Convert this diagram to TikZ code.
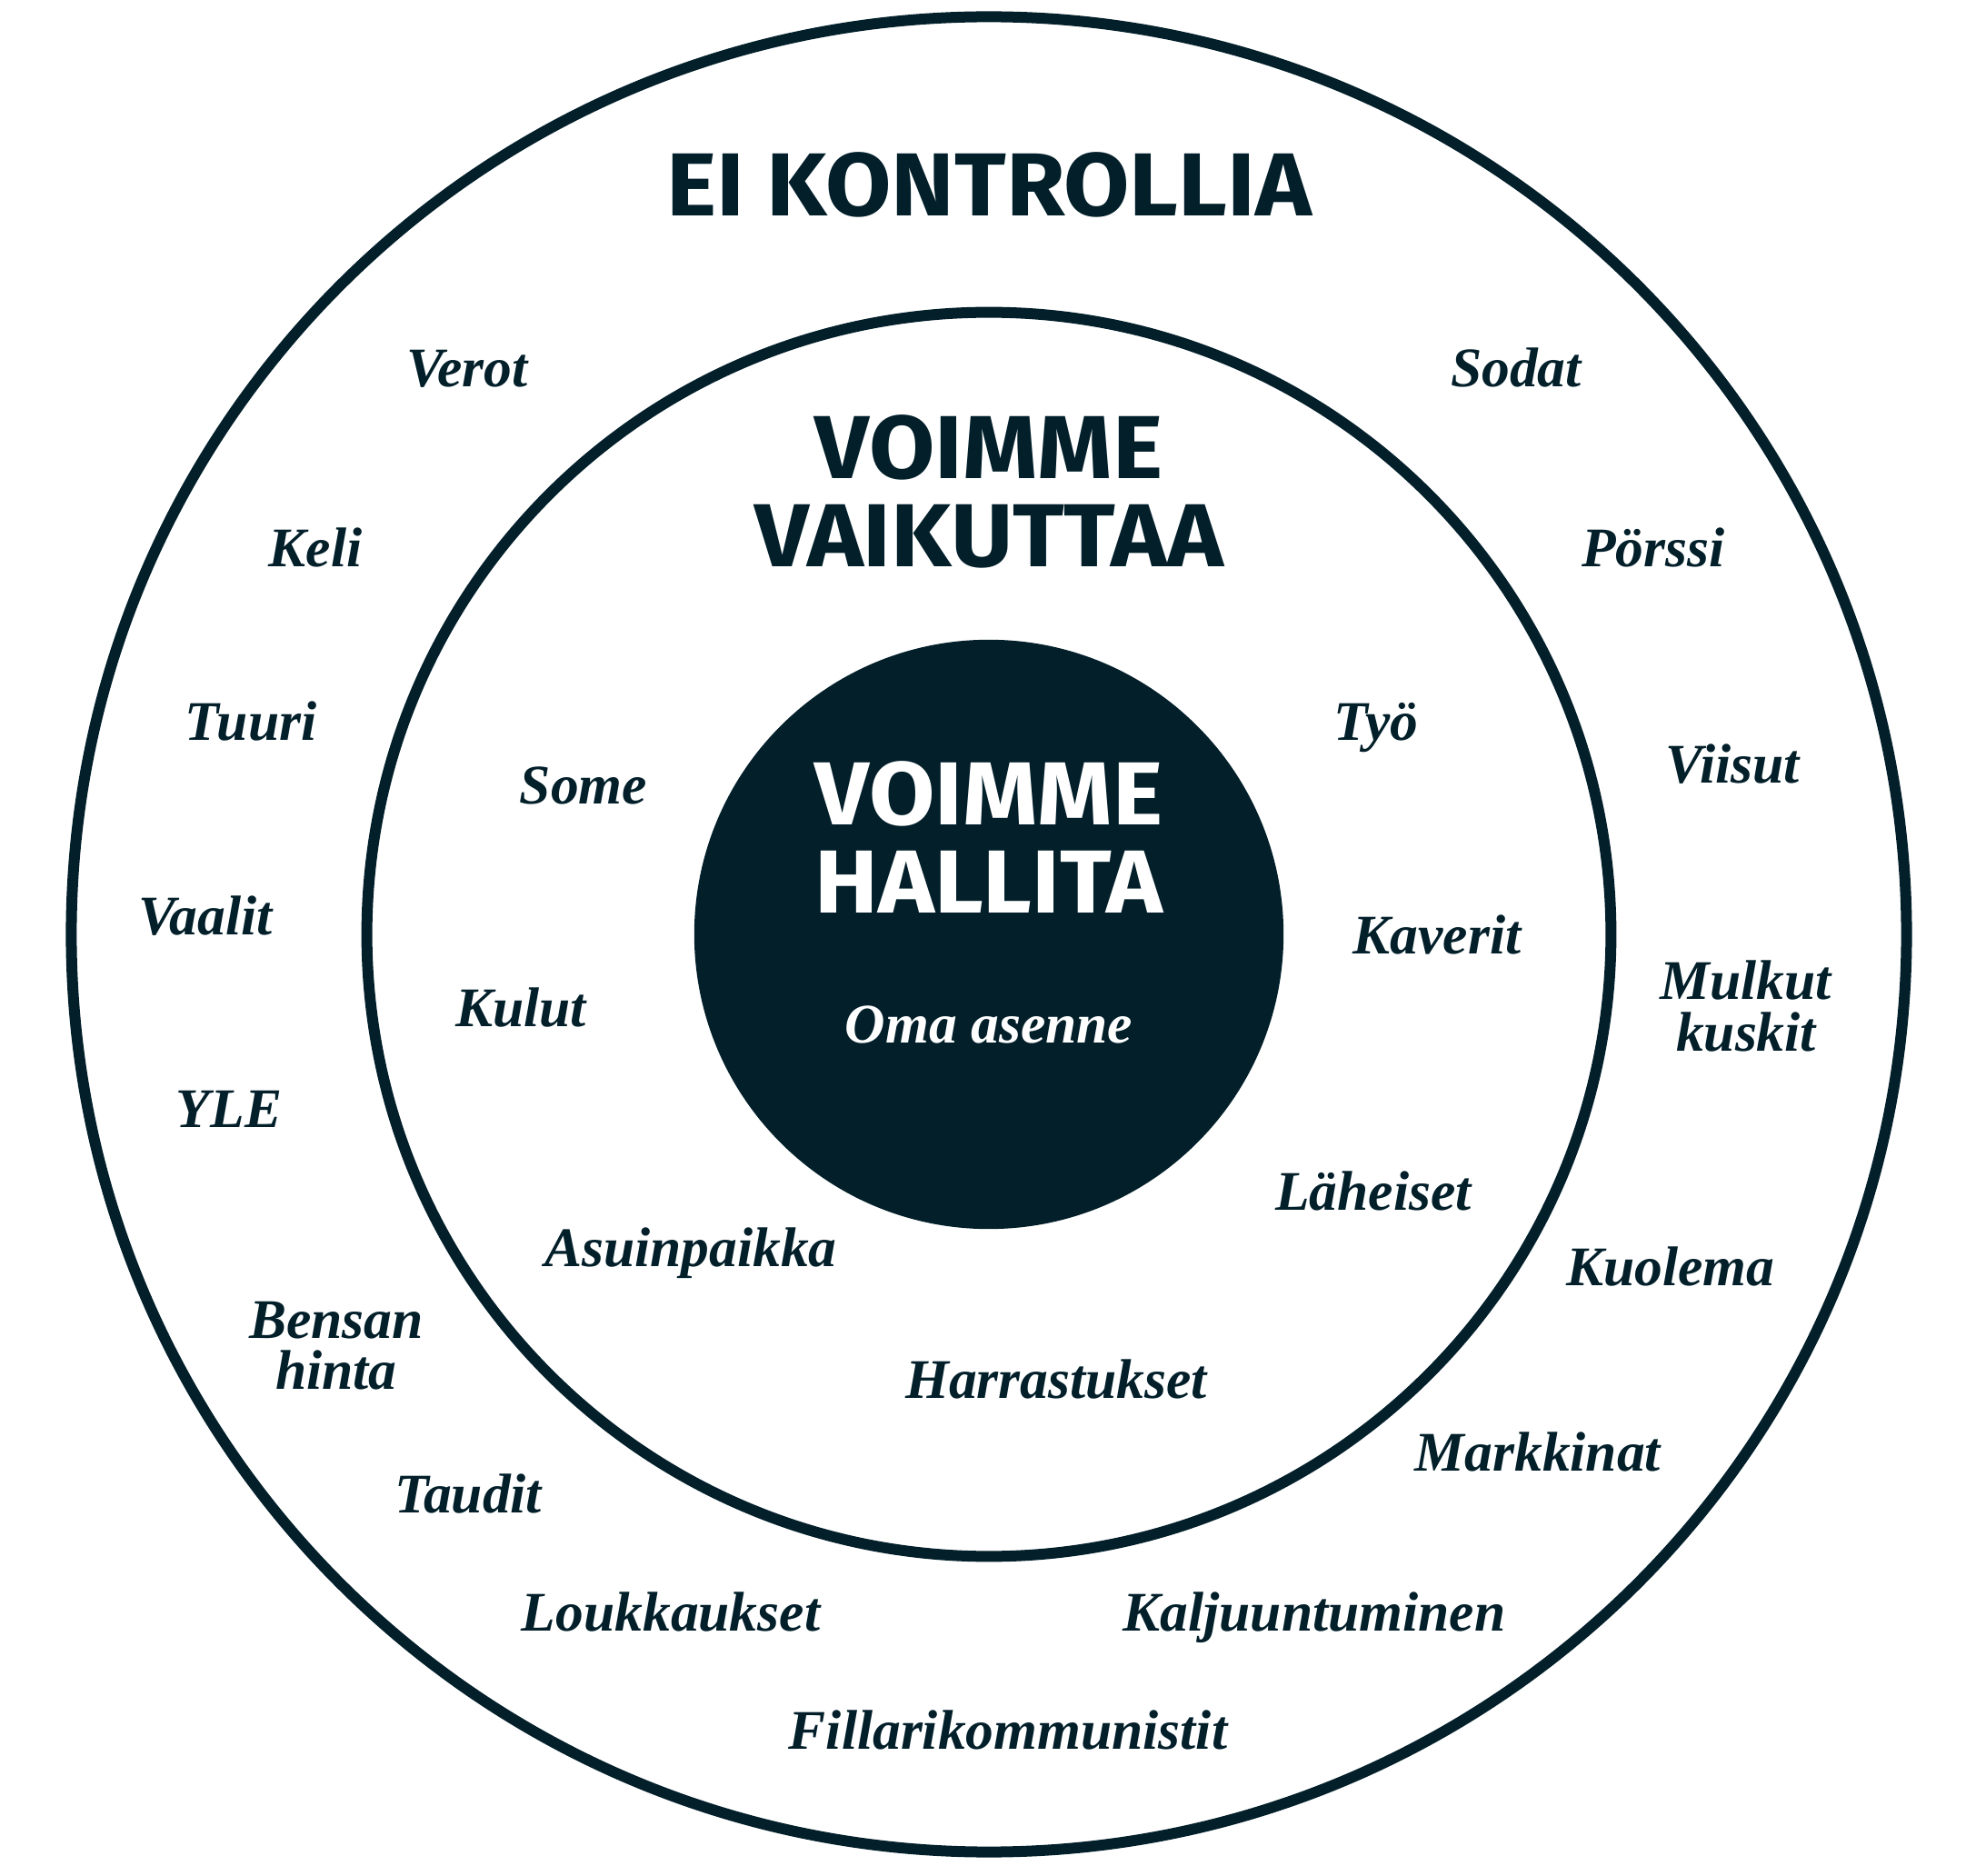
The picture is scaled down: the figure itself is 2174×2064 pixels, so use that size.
\documentclass[tikz,border=0pt]{standalone}
\usepackage{fontspec}
\usepackage{graphicx}
\setmainfont{Liberation Serif}
\newfontfamily\headfont{Fira Sans}
\definecolor{ink}{RGB}{2,31,42}
\newcommand{\hdwide}[1]{\scalebox{1.065}[1]{#1}}
\begin{document}
\begin{tikzpicture}[x=0.01cm,y=-0.01cm,
  item/.style={font=\fontsize{17.5}{16}\selectfont\bfseries\itshape, text=ink, align=center, inner sep=0, anchor=base},
  head/.style={font=\headfont\fontsize{28}{27.5}\selectfont\bfseries, text=ink, align=center, inner sep=0, anchor=base},
  ring/.style={draw=ink, line width=0.12cm}]
\useasboundingbox (0,0) rectangle (2174,2064);
\coordinate (c) at (1088,1028);
\draw[ring] (c) circle[radius=10.09cm];
\draw[ring] (c) circle[radius=6.84cm];
\fill[ink] (c) circle[radius=3.24cm];

\node[head] (eik) at (1088,238) {\hdwide{EI KONTROLLIA}};
\node[head] (vv1) at (1088,527) {\hdwide{VOIMME}};
\node[head] (vv2) at (1088,624) {\hdwide{VAIKUTTAA}};
\node[head,text=white] (vh1) at (1088,908) {\hdwide{VOIMME}};
\node[head,text=white] (vh2) at (1088,1005) {\hdwide{HALLITA}};
\node[item,text=white] (oma) at (1088,1148) {Oma asenne};

\node[item] (verot) at (514,426) {Verot};
\node[item] (sodat) at (1668,426) {Sodat};
\node[item] (keli) at (347,624) {Keli};
\node[item] (porssi) at (1819,624) {Pörssi};
\node[item] (tuuri) at (276,815) {Tuuri};
\node[item] (viisut) at (1906,862) {Viisut};
\node[item] (vaalit) at (226,1029) {Vaalit};
\node[item] (mulkut) at (1921,1100) {Mulkut};
\node[item] (kuskit) at (1921,1156) {kuskit};
\node[item] (yle) at (252,1241) {YLE};
\node[item] (kuolema) at (1838,1414) {Kuolema};
\node[item] (bensan) at (370,1472) {Bensan};
\node[item] (hinta) at (370,1528) {hinta};
\node[item] (markkinat) at (1692,1619) {Markkinat};
\node[item] (taudit) at (515,1664) {Taudit};
\node[item] (louk) at (738,1794) {Loukkaukset};
\node[item] (kalj) at (1446,1794) {Kaljuuntuminen};
\node[item] (fill) at (1109,1924) {Fillarikommunistit};

\node[item] (some) at (642,885) {Some};
\node[item] (tyo) at (1514,815) {Työ};
\node[item] (kulut) at (573,1130) {Kulut};
\node[item] (kaverit) at (1581,1050) {Kaverit};
\node[item] (laheiset) at (1511,1332) {Läheiset};
\node[item] (asuin) at (760,1393) {Asuinpaikka};
\node[item] (harr) at (1162,1538) {Harrastukset};
\end{tikzpicture}
\end{document}
